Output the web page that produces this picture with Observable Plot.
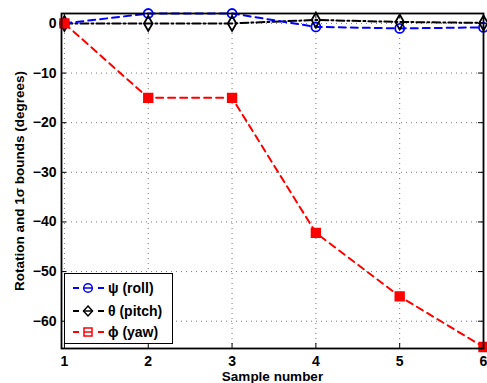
<!DOCTYPE html>
<html><head><meta charset="utf-8">
<script src="https://cdn.jsdelivr.net/npm/d3@7"></script>
<script src="https://cdn.jsdelivr.net/npm/@observablehq/plot@0.6"></script>
<style>
body{margin:0;background:#fff;}
#wrap{position:relative;width:487px;height:383px;font-family:"Liberation Sans",Arial,sans-serif;}
#legend{position:absolute;left:64px;top:273px;width:109px;height:71px;border:1px solid #000;background:#fff;box-sizing:border-box;font:bold 14px "Liberation Sans",Arial,sans-serif;}
#legend .row{position:absolute;left:5px;height:20px;display:flex;align-items:center;}
#legend svg{display:block}
</style></head><body>
<div id="wrap"><div id="chart"></div><div id="legend"></div></div>
<script>
const samples = [1, 2, 3, 4, 5, 6];
const roll  = [0, 2, 2, -0.7, -1.0, -0.8];
const pitch = [0, 0, 0, 0.7, 0.3, 0.1];
const yaw   = [0, -15, -15, -42.2, -55, -65.2];
const yTicks = [0, -10, -20, -30, -40, -50, -60];
const xTicks = [1, 2, 3, 4, 5, 6];
const seriesNames = ["\u03c8 (roll)", "\u03b8 (pitch)", "\u03d5 (yaw)"];
const colors = ["#0000ff", "#000000", "#ff0000"];
const dashes = ["7,5", "8,3,2,3", "7,5"];

const mk = (vals) => samples.map((s, i) => ({x: s, y: vals[i]}));
const dRoll = mk(roll), dPitch = mk(pitch), dYaw = mk(yaw);

const xDom = [0.965, 6.0], yDom = [-65.5, 2.0];
const W = 487, H = 383, mL = 61, mR = 4, mT = 13, mB = 35;
const xPer = (xDom[1]-xDom[0])/(W-mL-mR), yPer = (yDom[1]-yDom[0])/(H-mT-mB);
const tl = 5;

const chart = Plot.plot({
  width: W, height: H,
  marginLeft: mL, marginRight: mR, marginTop: mT, marginBottom: mB,
  style: {fontFamily: "'Liberation Sans', Arial, sans-serif", fontSize: "13px", fontWeight: "bold", color: "#000", background: "#fff"},
  x: {domain: xDom, label: null},
  y: {domain: yDom, label: null},
  marks: [
    Plot.gridX(xTicks, {stroke: "#555", strokeOpacity: 1, strokeDasharray: "1,4", strokeWidth: 0.8}),
    Plot.gridY(yTicks, {stroke: "#555", strokeOpacity: 1, strokeDasharray: "1,4", strokeWidth: 0.8}),
    Plot.ruleY(yTicks, {y: d => d, x1: xDom[0], x2: xDom[0] + tl*xPer, stroke: "#000"}),
    Plot.ruleY(yTicks, {y: d => d, x1: xDom[1] - tl*xPer, x2: xDom[1], stroke: "#000"}),
    Plot.ruleX(xTicks, {x: d => d, y1: yDom[0], y2: yDom[0] + tl*yPer, stroke: "#000"}),
    Plot.ruleX(xTicks, {x: d => d, y1: yDom[1] - tl*yPer, y2: yDom[1], stroke: "#000"}),
    Plot.axisX(xTicks, {tickSize: 0, tickPadding: 8, fontSize: 14, fontWeight: "bold", label: null}),
    Plot.axisY(yTicks, {tickSize: 0, tickPadding: 5, fontSize: 14, fontWeight: "bold", label: null, tickFormat: d => d < 0 ? "\u2212" + Math.abs(d) : String(d)}),
    Plot.line(dPitch, {x: "x", y: "y", stroke: colors[1], strokeWidth: 2, strokeDasharray: dashes[1]}),
    Plot.line(dRoll, {x: "x", y: "y", stroke: colors[0], strokeWidth: 2, strokeDasharray: dashes[0]}),
    Plot.line(dYaw, {x: "x", y: "y", stroke: colors[2], strokeWidth: 2, strokeDasharray: dashes[2]}),
    Plot.dot(dRoll, {x: "x", y: "y", symbol: "circle", r: 4.5, stroke: colors[0], strokeWidth: 1.8, fill: "none"}),
    Plot.dot(dPitch, {x: "x", y: "y", symbol: "diamond", r: 4.5, stroke: colors[1], strokeWidth: 1.8, fill: "none"}),
    Plot.dot(dYaw, {x: "x", y: "y", symbol: "square", r: 5, stroke: colors[2], fill: colors[2]}),
    Plot.frame({stroke: "#000", strokeWidth: 1.8}),
    Plot.text(["Sample number"], {frameAnchor: "bottom", dy: 23, fontSize: 13.5, fontWeight: "bold", lineAnchor: "top"}),
    Plot.text(["Rotation and 1\u03c3 bounds (degrees)"], {frameAnchor: "left", textAnchor: "middle", dx: -42, rotate: -90, fontSize: 13.5, fontWeight: "bold"})
  ]
});
document.getElementById("chart").appendChild(chart);

const leg = document.getElementById("legend");
const markerSvg = (i) => {
  const c = colors[i];
  let m = "";
  if (i === 0) m = `<circle cx="18" cy="7" r="4.3" fill="none" stroke="${c}" stroke-width="1.5"/><line x1="13.7" y1="7" x2="22.3" y2="7" stroke="${c}" stroke-width="1.5"/>`;
  if (i === 1) m = `<path d="M18,2 L22.5,7 L18,12 L13.5,7Z" fill="none" stroke="${c}" stroke-width="1.5"/><line x1="13.5" y1="7" x2="22.5" y2="7" stroke="${c}" stroke-width="1.5"/>`;
  if (i === 2) m = `<rect x="14" y="3" width="8" height="8" fill="none" stroke="${c}" stroke-width="1.5"/><line x1="14" y1="7" x2="22" y2="7" stroke="${c}" stroke-width="1.5"/>`;
  return `<svg width="36" height="14"><line x1="3" y1="7" x2="9" y2="7" stroke="${c}" stroke-width="2"/>${m}<line x1="28" y1="7" x2="34" y2="7" stroke="${c}" stroke-width="2"/></svg>`;
};
const rowTops = [4, 27, 48];
seriesNames.forEach((n, i) => {
  const r = document.createElement("div");
  r.className = "row";
  r.style.top = rowTops[i] + "px";
  r.innerHTML = markerSvg(i) + `<span style="margin-left:2px">${n}</span>`;
  leg.appendChild(r);
});
</script>
</body></html>
